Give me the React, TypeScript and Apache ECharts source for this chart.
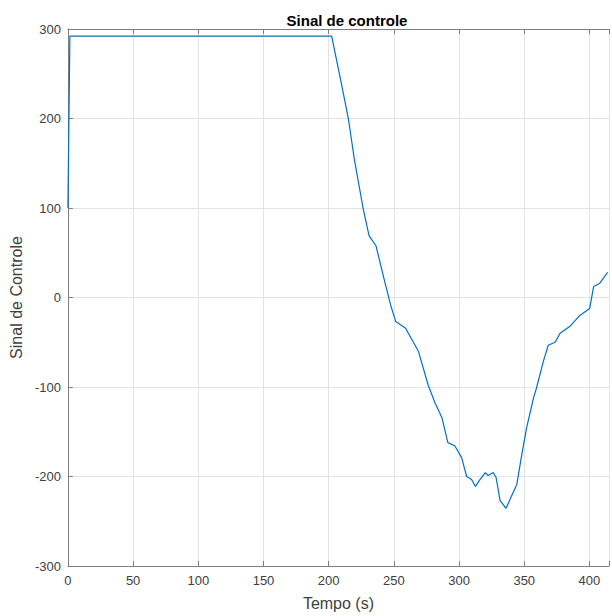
import React, { useEffect, useRef } from "react";
import * as echarts from "echarts";

const timeS = [
  0, 1.5, 202.3, 209.9, 215.2, 219.7, 226.5, 231.0, 236.3, 242.4, 247.6, 251.4,
  259.0, 268.8, 276.3, 281.6, 286.9, 291.4, 296.7, 302.0, 305.8, 309.6, 312.6,
  315.6, 320.1, 322.4, 326.2, 328.4, 331.4, 336.0, 339.8, 344.3, 348.1, 351.8,
  357.1, 359.4, 364.7, 368.4, 373.7, 377.5, 385.1, 392.6, 400.2, 403.2, 407.7,
  411.5, 414,
];
const controlSignal = [
  100, 292, 292, 237.8, 198.9, 154.4, 98.9, 68.9, 57.8, 21.1, -8.9, -26.7,
  -34.4, -60, -97.8, -117.8, -134.4, -162.2, -165.6, -178.9, -200, -203.3,
  -211.1, -204.4, -195.6, -198.9, -195.6, -201.1, -226.7, -235.6, -223.3,
  -208.9, -175.6, -145.6, -112.2, -101.1, -71.1, -53.3, -50, -40, -32.2, -20,
  -12.2, 12.2, 15.6, 23.3, 28,
];
const xTicks = [0, 50, 100, 150, 200, 250, 300, 350, 400];
const yTicks = [-300, -200, -100, 0, 100, 200, 300];

const axisColor = "#7f7f7f";
const labelColor = "#404040";
const gridColor = "#e3e3e3";
const font = "'Liberation Sans', Arial, Helvetica, sans-serif";

export default function App() {
  const ref = useRef<HTMLDivElement>(null);
  useEffect(() => {
    if (!ref.current) return;
    const chart = echarts.init(ref.current, null, { renderer: "svg" });
    const data = timeS.map((t, i) => [t, controlSignal[i]]);
    const commonX = {
      type: "value" as const,
      min: 0,
      max: 415,
      interval: 50,
    };
    chart.setOption({
      animation: false,
      backgroundColor: "#ffffff",
      title: {
        text: "Sinal de controle",
        left: 342,
        top: 8,
        textAlign: "center",
        textStyle: {
          fontFamily: font,
          fontSize: 15,
          fontWeight: "bold",
          color: "#000000",
        },
      },
      grid: {
        left: 67,
        top: 29,
        width: 550,
        height: 540,
        show: false,
      },
      xAxis: [
        {
          ...commonX,
          position: "bottom",
          name: "Tempo (s)",
          nameLocation: "middle",
          nameGap: 29,
          nameTextStyle: { fontFamily: font, fontSize: 16, color: labelColor },
          axisLine: { show: true, onZero: false, lineStyle: { color: axisColor, width: 1 } },
          axisTick: { show: true, inside: true, length: 5, lineStyle: { color: axisColor } },
          axisLabel: {
            fontFamily: font,
            fontSize: 13,
            color: labelColor,
            margin: 8,
            formatter: (v: number) => (xTicks.includes(v) ? String(v) : ""),
          },
          splitLine: { show: true, lineStyle: { color: gridColor, width: 1 } },
        },
        {
          ...commonX,
          position: "top",
          axisLine: { show: true, onZero: false, lineStyle: { color: axisColor, width: 1 } },
          axisTick: { show: true, inside: true, length: 5, lineStyle: { color: axisColor } },
          axisLabel: { show: false },
          splitLine: { show: false },
        },
      ],
      yAxis: {
        type: "value",
        min: -300,
        max: 300,
        interval: 100,
        name: "Sinal de Controle",
        nameLocation: "middle",
        nameGap: 42,
        nameTextStyle: { fontFamily: font, fontSize: 16, color: labelColor },
        axisLine: { show: true, onZero: false, lineStyle: { color: axisColor, width: 1 } },
        axisTick: { show: true, inside: true, length: 5, lineStyle: { color: axisColor } },
        axisLabel: {
          fontFamily: font,
          fontSize: 13,
          color: labelColor,
          margin: 7,
          formatter: (v: number) => (yTicks.includes(v) ? String(v) : ""),
        },
        splitLine: { show: true, lineStyle: { color: gridColor, width: 1 } },
      },
      series: [
        {
          type: "line",
          xAxisIndex: 0,
          data,
          showSymbol: false,
          smooth: false,
          lineStyle: { color: "#0072BD", width: 1.2 },
          clip: true,
        },
      ],
    });
    return () => chart.dispose();
  }, []);
  return (
    <div
      ref={ref}
      style={{ position: "absolute", left: 0, top: 0, width: 612, height: 616 }}
    />
  );
}
